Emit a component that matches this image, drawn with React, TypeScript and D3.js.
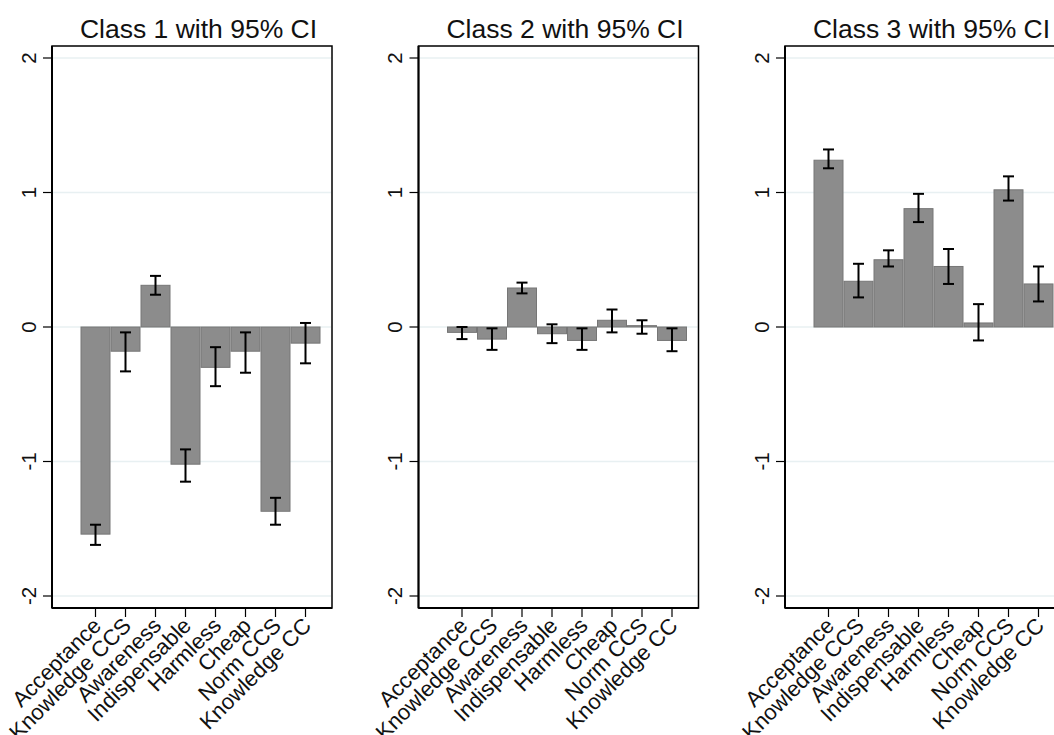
import React from "react";
import * as d3 from "d3";

const categories = [
  "Acceptance",
  "Knowledge CCS",
  "Awareness",
  "Indispensable",
  "Harmless",
  "Cheap",
  "Norm CCS",
  "Knowledge CC",
];

const titles = ["Class 1 with 95% CI", "Class 2 with 95% CI", "Class 3 with 95% CI"];

const class1Mean = [-1.54, -0.18, 0.31, -1.02, -0.3, -0.18, -1.37, -0.12];
const class1Lo = [-1.62, -0.33, 0.24, -1.15, -0.44, -0.34, -1.47, -0.27];
const class1Hi = [-1.47, -0.04, 0.38, -0.91, -0.15, -0.04, -1.27, 0.03];

const class2Mean = [-0.04, -0.09, 0.29, -0.05, -0.1, 0.05, 0.01, -0.1];
const class2Lo = [-0.09, -0.17, 0.25, -0.12, -0.17, -0.04, -0.05, -0.18];
const class2Hi = [0.0, -0.01, 0.33, 0.02, -0.01, 0.13, 0.05, -0.01];

const class3Mean = [1.24, 0.34, 0.5, 0.88, 0.45, 0.03, 1.02, 0.32];
const class3Lo = [1.18, 0.22, 0.45, 0.78, 0.32, -0.1, 0.94, 0.19];
const class3Hi = [1.32, 0.47, 0.57, 0.99, 0.58, 0.17, 1.12, 0.45];

const yTicks = [-2, -1, 0, 1, 2];

const panels = [
  { mean: class1Mean, lo: class1Lo, hi: class1Hi },
  { mean: class2Mean, lo: class2Lo, hi: class2Hi },
  { mean: class3Mean, lo: class3Lo, hi: class3Hi },
];

const font = "'Liberation Sans', Arial, sans-serif";

const Panel = ({ left, title, mean, lo, hi }) => {
  const width = 280;
  const y = d3.scaleLinear().domain([-2, 2]).range([596, 58]);
  const top = y(2) - 12;
  const bottom = y(-2) + 12;
  const x = d3.scaleLinear().domain([0, 7]).range([left + 43.5, left + 43.5 + 210]);
  const bw = 29;

  return (
    <g>
      <text x={left + 146.5} y={38} textAnchor="middle" fontSize={26.5} fontFamily={font} fill="#111">
        {title}
      </text>
      {yTicks.map(t => (
        <line key={"g" + t} x1={left + 1} x2={left + width - 1} y1={y(t)} y2={y(t)} stroke="#e8f0f2" strokeWidth={1.5} />
      ))}
      {mean.map((v, i) => (
        <rect
          key={"b" + i}
          x={x(i) - bw / 2}
          y={Math.min(y(v), y(0))}
          width={bw}
          height={Math.abs(y(v) - y(0))}
          fill="#8c8c8c"
          stroke="#767676"
          strokeWidth={1}
        />
      ))}
      {mean.map((v, i) => (
        <g key={"e" + i} stroke="#000" strokeWidth={2}>
          <line x1={x(i)} x2={x(i)} y1={y(lo[i])} y2={y(hi[i])} />
          <line x1={x(i) - 5.5} x2={x(i) + 5.5} y1={y(lo[i])} y2={y(lo[i])} />
          <line x1={x(i) - 5.5} x2={x(i) + 5.5} y1={y(hi[i])} y2={y(hi[i])} />
        </g>
      ))}
      <rect x={left} y={top} width={width} height={bottom - top} fill="none" stroke="#000" strokeWidth={1.5} />
      <line x1={left} x2={left} y1={top} y2={bottom} stroke="#000" strokeWidth={2} />
      <line x1={left} x2={left + width} y1={bottom} y2={bottom} stroke="#000" strokeWidth={2} />
      {yTicks.map(t => (
        <g key={"t" + t}>
          <line x1={left - 9} x2={left} y1={y(t)} y2={y(t)} stroke="#000" strokeWidth={1.2} />
          <text
            transform={`translate(${left - 16.5},${y(t)}) rotate(-90)`}
            textAnchor="middle"
            fontSize={20.5}
            fontFamily={font}
            fill="#111"
          >
            {t}
          </text>
        </g>
      ))}
      {categories.map((c, i) => (
        <g key={"c" + i}>
          <line x1={x(i)} x2={x(i)} y1={bottom} y2={bottom + 9} stroke="#000" strokeWidth={1.2} />
          <text
            transform={`translate(${x(i) + 7},${bottom + 19}) rotate(-45)`}
            textAnchor="end"
            fontSize={22}
            fontFamily={font}
            fill="#111"
          >
            {c}
          </text>
        </g>
      ))}
    </g>
  );
};

export default function App() {
  const lefts = [52, 418.5, 785];
  return (
    <svg width={1054} height={735} style={{ position: "absolute", left: 0, top: 0, background: "#fff" }}>
      {panels.map((p, k) => (
        <Panel key={k} left={lefts[k]} title={titles[k]} mean={p.mean} lo={p.lo} hi={p.hi} />
      ))}
    </svg>
  );
}
